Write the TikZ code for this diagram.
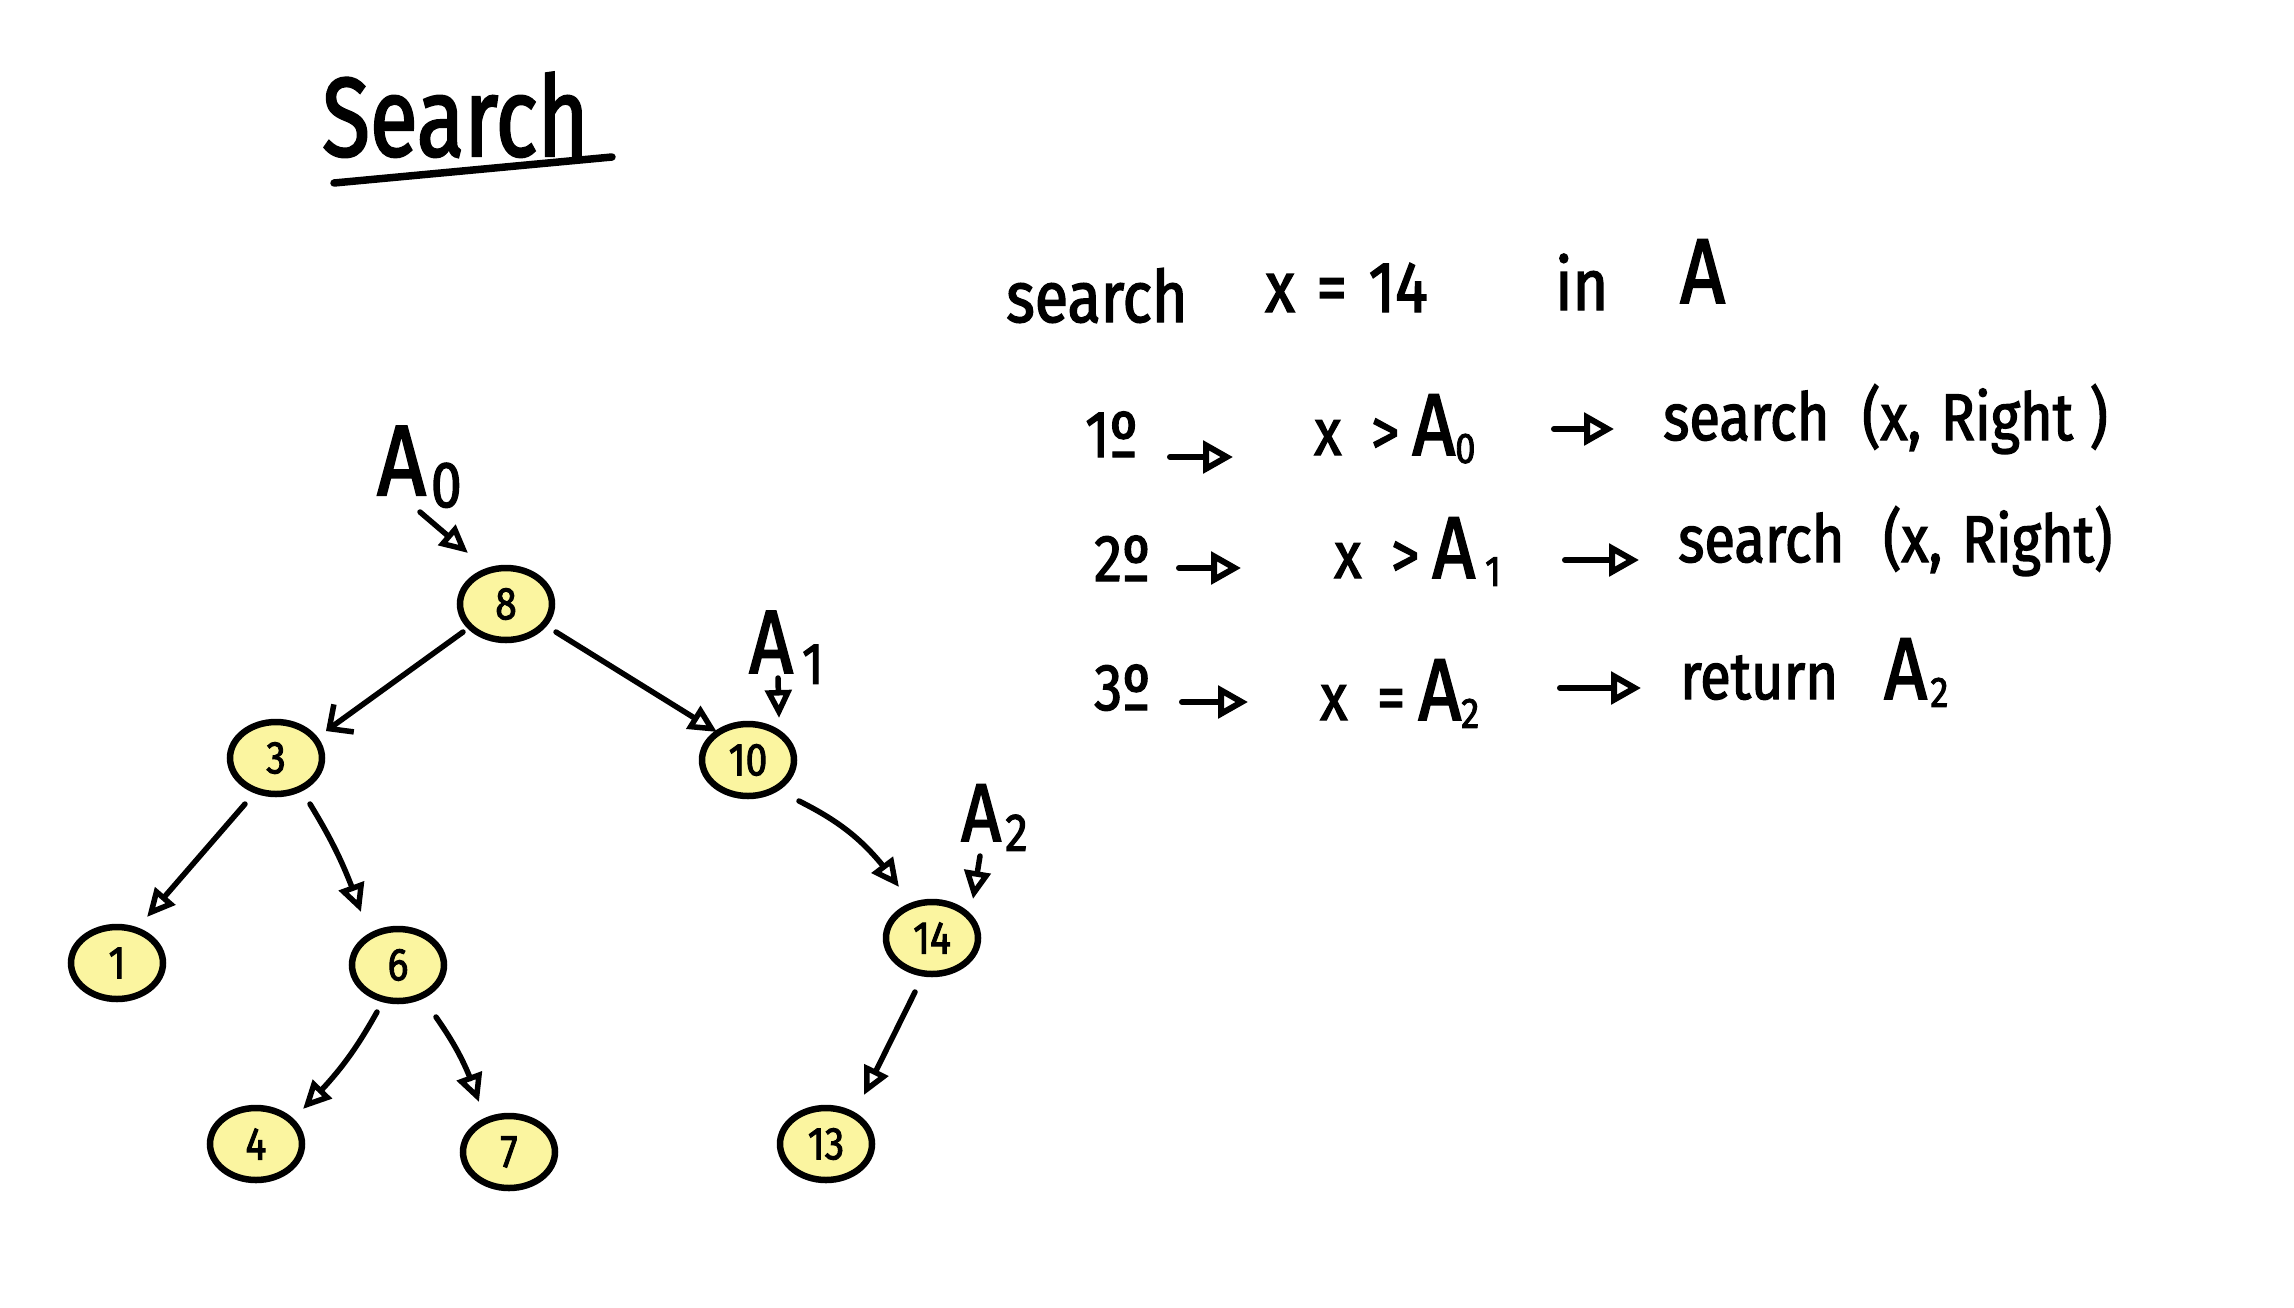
\documentclass[tikz,border=0pt]{standalone}
\usepackage{fontspec}
\setmainfont{Fira Sans}[FakeStretch=0.85, FakeBold=2]
\usetikzlibrary{arrows.meta,shapes.geometric,bending}
\definecolor{hlyellow}{HTML}{FBF5A0}
\newcommand\lowr[1]{\raisebox{-0.12em}{\scalebox{0.65}{#1}}}
\newcommand\fsz[1]{\fontsize{#1}{#1}\selectfont}
\newcommand\bigA[1]{{\fsz{#1}A}}
\tikzset{
  tnode/.style={ellipse, draw=black, line width=6.5pt, fill=hlyellow,
    minimum width=92pt, minimum height=72pt, inner sep=0pt, font=\fsz{46}},
  edge/.style={line width=5.5pt, line cap=round,
    -{Triangle[open,length=28pt,width=26pt]}},
  barbedge/.style={line width=5.5pt, line cap=round,
    -{Straight Barb[length=18pt,width=34pt]}},
  txt/.style={anchor=base west, inner sep=0pt, font=\fsz{66}},
  headtxt/.style={anchor=base west, inner sep=0pt, font=\fsz{72}},
  tarr/.style={line width=6pt, line cap=round,
    -{Triangle[open,length=30pt,width=32pt]}},
  lbl/.style={anchor=base west, inner sep=0pt},
  ptr/.style={line width=5.5pt, line cap=round,
    -{Triangle[open,length=28pt,width=26pt]}}
}
\begin{document}
\begin{tikzpicture}[x=1pt,y=-1pt]
\fill[white] (0,0) rectangle (2294,1307);
\useasboundingbox (0,0) rectangle (2294,1307);

% title
\node[lbl, font=\fsz{112}] (title) at (322,156) {\scalebox{0.92}[1]{Search}};
\draw[line width=7.5pt, line cap=round]
  ([shift={(12,27)}]title.base west) -- ([shift={(290,1)}]title.base west);

% header line
\node[headtxt] (h1) at (1006,322) {search};
\node[headtxt] (h2) at (1265,312) {x\hspace{0.3em}=\hspace{0.3em}14};
\node[headtxt] (h3) at (1555,310) {in};
\node[headtxt] (h4) at (1680,303) {\bigA{92}};

% line 1
\node[txt] (n1a) at (1085,457) {1º};
\node[txt] (n1b) at (1314,455) {x\hspace{0.45em}>\hspace{0.2em}\bigA{88}\lowr{0}};
\node[txt] (n1c) at (1663,440) {search};
\node[txt] (n1d) at (1862,440) {(x,\hspace{0.3em}Right\hspace{0.25em})};
\draw[tarr] ([shift={(85,0)}]n1a.base west) -- ([shift={(-81,2)}]n1b.base west);
\draw[tarr] ([shift={(240,-26)}]n1b.base west) -- ([shift={(-49,-11)}]n1c.base west);

% line 2
\node[txt] (n2a) at (1094,581) {2º};
\node[txt] (n2b) at (1334,578) {x\hspace{0.45em}>\hspace{0.2em}\bigA{88}\hspace{0.15em}\lowr{1}};
\node[txt] (n2c) at (1678,562) {search};
\node[txt] (n2d) at (1883,562) {(x,\hspace{0.3em}Right)};
\draw[tarr] ([shift={(85,-13)}]n2a.base west) -- ([shift={(-93,-10)}]n2b.base west);
\draw[tarr] ([shift={(231,-18)}]n2b.base west) -- ([shift={(-39,-2)}]n2c.base west);

% line 3
\node[txt] (n3a) at (1094,710) {3º};
\node[txt] (n3b) at (1320,720) {x\hspace{0.45em}=\hspace{0.2em}\bigA{88}\lowr{2}};
\node[txt] (n3c) at (1680,699) {return};
\node[txt] (n3d) at (1884,699) {\bigA{88}\hspace{0.05em}\lowr{2}};
\draw[tarr] ([shift={(88,-8)}]n3a.base west) -- ([shift={(-72,-18)}]n3b.base west);
\draw[tarr] ([shift={(240,-32)}]n3b.base west) -- ([shift={(-39,-11)}]n3c.base west);

% tree nodes
\node[tnode] (n8)  at (506,604)  {8};
\node[tnode] (n3)  at (276,758)  {3};
\node[tnode] (n10) at (748,760)  {10};
\node[tnode] (n1)  at (117,963)  {1};
\node[tnode] (n6)  at (398,965)  {6};
\node[tnode] (n14) at (932,938)  {14};
\node[tnode] (n4)  at (256,1144) {4};
\node[tnode] (n7)  at (509,1152) {7};
\node[tnode] (n13) at (826,1144) {13};

% tree edges
\draw[barbedge] ([shift={(-43,28)}]n8.center) -- ([shift={(50,-27)}]n3.center);
\draw[edge] ([shift={(50,28)}]n8.center) -- ([shift={(-31,-28)}]n10.center);
\draw[edge] ([shift={(-31,46)}]n3.center) -- ([shift={(30,-46)}]n1.center);
\draw[edge] ([shift={(34,46)}]n3.center) to[bend left=6] ([shift={(-37,-53)}]n6.center);
\draw[edge] ([shift={(51,41)}]n10.center) to[bend left=14] ([shift={(-33,-51)}]n14.center);
\draw[edge] ([shift={(-21,47)}]n6.center) to[bend left=8] ([shift={(47,-35)}]n4.center);
\draw[edge] ([shift={(38,52)}]n6.center) to[bend left=8] ([shift={(-30,-50)}]n7.center);
\draw[edge] ([shift={(-17,54)}]n14.center) -- ([shift={(38,-49)}]n13.center);

% pointer labels
\node[lbl, font=\fsz{100}] (lA0) at (377,495) {A\hspace{0.05em}\lowr{0}};
\node[lbl, font=\fsz{90}] (lA1) at (749,673) {A\hspace{0.1em}\lowr{1}};
\node[lbl, font=\fsz{82}] (lA2) at (961,841) {A\hspace{0.05em}\lowr{2}};
\draw[ptr] ([shift={(43,17)}]lA0.base west) -- ([shift={(-38,-51)}]n8.center);
\draw[ptr] ([shift={(29,5)}]lA1.base west) -- ([shift={(31,-42)}]n10.center);
\draw[ptr] ([shift={(19,15)}]lA2.base west) -- ([shift={(41,-39)}]n14.center);
\end{tikzpicture}
\end{document}
